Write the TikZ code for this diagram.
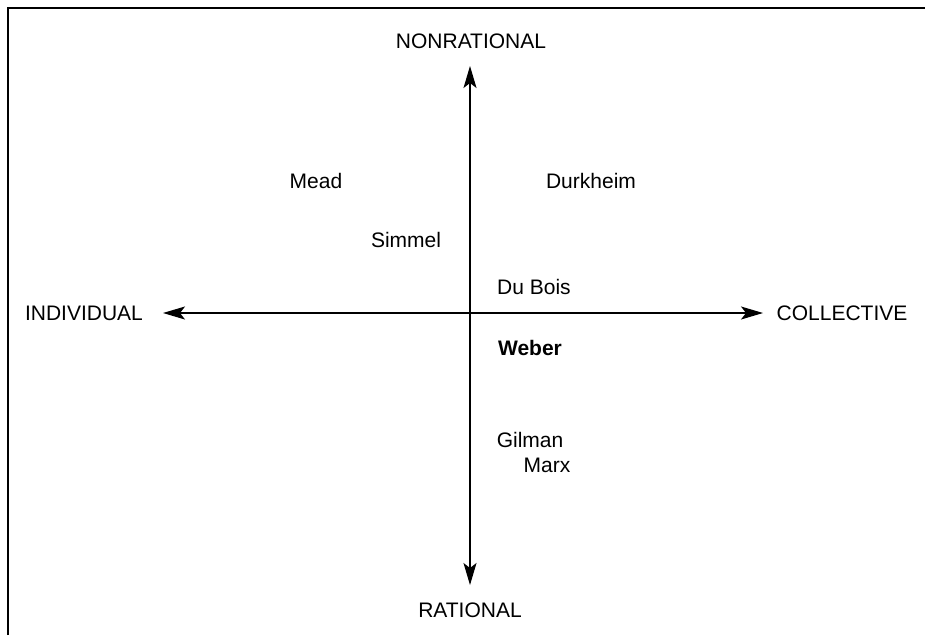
\documentclass[tikz,border=0pt]{standalone}
\usepackage{fontspec}
\setmainfont{Liberation Sans}
\usetikzlibrary{arrows.meta}
\begin{document}
\begin{tikzpicture}[x=1pt,y=-1pt,
  lbl/.style={inner sep=0pt,anchor=base,font=\fontsize{21}{24}\selectfont},
  tip/.style={Stealth[length=22pt,width=13pt,inset=5pt]},
  axis/.style={line width=1.2pt,{Stealth[length=22pt,width=13pt,inset=5pt]}-{Stealth[length=22pt,width=13pt,inset=5pt]}},
  frame/.style={line width=1.6pt}]
\useasboundingbox (0,0) rectangle (925,635);
\fill[white] (0,0) rectangle (925,635);
% frame (open at right and bottom, cut by the page)
\coordinate (fbl) at (8,635);
\coordinate (ftl) at (8,8);
\coordinate (ftr) at (925,8);
\draw[frame] (fbl) -- (ftl) -- (ftr);
% axes
\coordinate (top) at (470,66);
\coordinate (bot) at (470,585);
\coordinate (lft) at (163,313);
\coordinate (rgt) at (763,313);
\draw[axis] (top) -- (bot);
\draw[axis] (lft) -- (rgt);
% axis labels
\node[lbl] (nonrat) at (471,48) {NONRATIONAL};
\node[lbl] (rat) at (470,617) {RATIONAL};
\node[lbl] (indiv) at (84,320) {INDIVIDUAL};
\node[lbl] (coll) at (842,320) {COLLECTIVE};
% theorists
\node[lbl] (mead) at (316,188) {Mead};
\node[lbl] (durk) at (591,188) {Durkheim};
\node[lbl] (simmel) at (406,247) {Simmel};
\node[lbl] (dubois) at (534,294) {Du Bois};
\node[lbl,font=\fontsize{21}{24}\selectfont\bfseries] (weber) at (530,355) {Weber};
\node[lbl] (gilman) at (530,447) {Gilman};
\node[lbl] (marx) at (547,472) {Marx};
\end{tikzpicture}
\end{document}
